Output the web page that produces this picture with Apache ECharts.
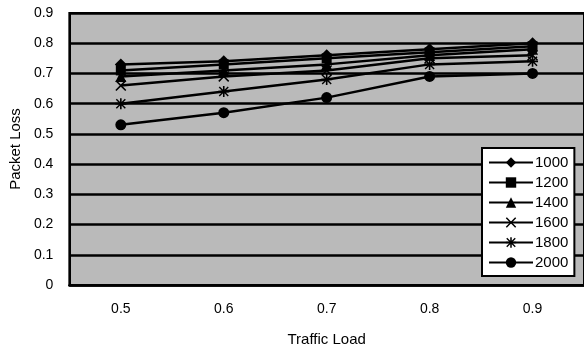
<!DOCTYPE html>
<html>
<head>
<meta charset="utf-8">
<script src="https://cdn.jsdelivr.net/npm/echarts@6/dist/echarts.min.js"></script>
<style>
  html, body { margin: 0; padding: 0; background: #fff; }
  #chart { width: 584px; height: 355px; }
</style>
</head>
<body>
<div id="chart"></div>
<script>
// Traffic load on the x axis
const categories = ['0.5', '0.6', '0.7', '0.8', '0.9'];

// Packet loss per buffer size
const seriesNames = ['1000', '1200', '1400', '1600', '1800', '2000'];
const loss1000 = [0.73, 0.74, 0.76, 0.78, 0.80];
const loss1200 = [0.71, 0.73, 0.75, 0.77, 0.79];
const loss1400 = [0.69, 0.71, 0.73, 0.76, 0.78];
const loss1600 = [0.66, 0.69, 0.71, 0.75, 0.76];
const loss1800 = [0.60, 0.64, 0.68, 0.73, 0.74];
const loss2000 = [0.53, 0.57, 0.62, 0.69, 0.70];

const yTicks = ['0', '0.1', '0.2', '0.3', '0.4', '0.5', '0.6', '0.7', '0.8', '0.9'];

const crossPath = 'path://M1,0L5,4L9,0L10,1L6,5L10,9L9,10L5,6L1,10L0,9L4,5L0,1Z';
const starPath = 'path://M1,0L5,4L9,0L10,1L6,5L10,9L9,10L5,6L1,10L0,9L4,5L0,1Z M4.2,-0.5H5.8V10.5H4.2Z M-0.5,4.2H10.5V5.8H-0.5Z';

const markers = [
  { symbol: 'diamond', size: 12 },
  { symbol: 'rect', size: 10 },
  { symbol: 'triangle', size: 11 },
  { symbol: crossPath, size: 11 },
  { symbol: starPath, size: 11 },
  { symbol: 'circle', size: 11 }
];
const values = [loss1000, loss1200, loss1400, loss1600, loss1800, loss2000];

const font = 'Liberation Sans, Arial, sans-serif';

const chart = echarts.init(document.getElementById('chart'));
chart.setOption({
  animation: false,
  backgroundColor: '#ffffff',
  textStyle: { fontFamily: font, color: '#000' },
  grid: {
    left: 68, top: 13, width: 517, height: 272,
    show: true,
    backgroundColor: '#bababa',
    borderColor: '#000',
    borderWidth: 2
  },
  legend: {
    orient: 'vertical',
    left: 482, top: 148,
    padding: [7, 6, 6, 6],
    itemGap: 5,
    itemWidth: 44,
    itemHeight: 13,
    backgroundColor: '#ffffff',
    borderColor: '#000',
    borderWidth: 2,
    textStyle: { fontFamily: font, fontSize: 15, color: '#000', padding: [0, 0, 0, -3] },
    data: seriesNames
  },
  xAxis: {
    type: 'category',
    data: categories,
    boundaryGap: true,
    name: 'Traffic Load',
    nameLocation: 'middle',
    nameGap: 47,
    nameTextStyle: { fontFamily: font, fontSize: 15, color: '#000' },
    axisLine: { lineStyle: { color: '#000', width: 2.5 } },
    axisTick: { alignWithLabel: true, length: 5, lineStyle: { color: '#000', width: 2 } },
    axisLabel: { fontFamily: font, fontSize: 14, color: '#000', margin: 17 }
  },
  yAxis: {
    type: 'value',
    min: 0, max: 0.9, interval: 0.1,
    name: 'Packet Loss',
    nameLocation: 'middle',
    nameGap: 43,
    nameTextStyle: { fontFamily: font, fontSize: 15, color: '#000' },
    axisLine: { show: true, lineStyle: { color: '#000', width: 2 } },
    axisTick: { show: false },
    axisLabel: {
      fontFamily: font, fontSize: 14, color: '#000', margin: 16,
      formatter: function (v) { return yTicks[Math.round(v * 10)]; }
    },
    splitLine: { show: true, lineStyle: { color: '#000', width: 2.5 } }
  },
  series: seriesNames.map(function (name, i) {
    return {
      name: name,
      type: 'line',
      data: values[i],
      symbol: markers[i].symbol,
      symbolSize: markers[i].size,
      showAllSymbol: true,
      color: '#000',
      lineStyle: { color: '#000', width: 2.5 },
      itemStyle: { color: '#000', borderColor: '#000', borderWidth: 0 }
    };
  })
});
</script>
</body>
</html>
